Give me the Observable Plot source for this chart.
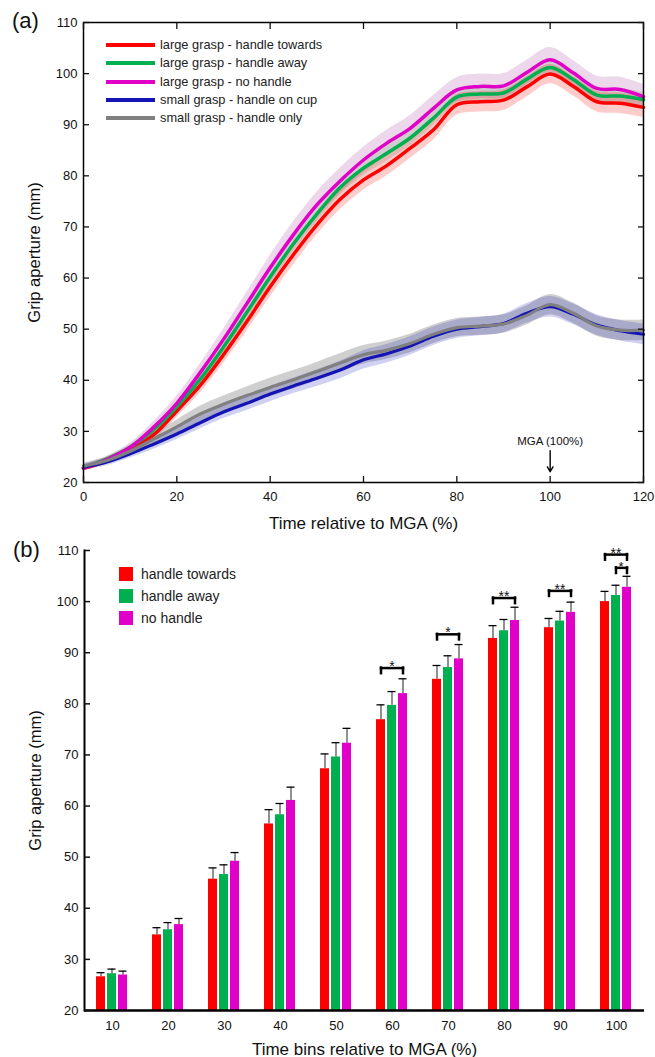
<!DOCTYPE html>
<html>
<head>
<meta charset="utf-8">
<script src="https://cdn.jsdelivr.net/npm/d3@7"></script>
<script src="https://cdn.jsdelivr.net/npm/@observablehq/plot@0.6"></script>
<style>
  body { margin: 0; background: #fff; font-family: "Liberation Sans", Arial, Helvetica, sans-serif; }
  #wrap { position: relative; width: 655px; height: 1057px; overflow: hidden; }
  .panel { position: absolute; left: 0; overflow: visible; }
  .tag { position: absolute; font-size: 22px; line-height: 22px; color: #111; }
  .legline { position: absolute; height: 4px; width: 49px; }
  .legsq { position: absolute; width: 14px; height: 14px; }
  .legtxt { position: absolute; color: #222; white-space: nowrap; }
</style>
</head>
<body>
<div id="wrap"></div>
<script>
// ---------- Panel (a): grip aperture over time ----------
const timePct = [0, 5, 10, 15, 20, 25, 30, 35, 40, 45, 50, 55, 60, 65, 70, 75, 80, 85, 90, 95, 100, 105, 110, 115, 120];

const largeTowards = [22.8, 24.2, 26.3, 29.3, 34.0, 39.0, 45.0, 51.5, 58.3, 64.6, 70.4, 75.4, 79.2, 82.0, 85.4, 89.0, 93.9, 94.5, 94.8, 97.4, 99.9, 97.5, 94.5, 94.2, 93.4];
const largeAway    = [22.9, 24.6, 26.9, 30.3, 34.8, 40.2, 46.5, 53.3, 60.2, 66.7, 72.5, 77.7, 81.5, 84.4, 87.4, 91.3, 95.4, 96.0, 96.2, 98.9, 101.2, 98.8, 95.8, 95.6, 94.9];
const largeNone    = [22.8, 24.5, 26.9, 30.8, 35.5, 41.5, 48.0, 55.0, 62.0, 68.5, 74.3, 79.0, 83.1, 86.4, 89.3, 93.2, 96.8, 97.5, 97.6, 100.2, 102.7, 100.1, 97.1, 96.9, 95.5];
const smallCup     = [23.0, 24.0, 25.6, 27.5, 29.5, 31.7, 33.8, 35.5, 37.3, 38.9, 40.4, 42.0, 44.0, 45.2, 46.7, 48.6, 50.0, 50.5, 51.1, 53.1, 54.4, 52.9, 50.8, 49.7, 49.0];
const smallHandle  = [23.2, 24.3, 26.1, 28.5, 30.9, 33.4, 35.3, 37.0, 38.6, 40.1, 41.7, 43.4, 45.0, 45.9, 47.2, 49.0, 50.3, 50.6, 51.0, 52.7, 54.8, 53.1, 50.6, 49.8, 49.8];

// half-widths of the shaded error bands
const bandTowards = [0.5, 0.6, 0.8, 1.0, 1.3, 1.5, 1.7, 1.9, 2.0, 2.0, 2.0, 2.0, 2.0, 2.0, 2.0, 2.0, 2.0, 2.0, 2.0, 2.0, 1.9, 1.9, 2.0, 2.0, 2.0];
const bandAway    = [0.4, 0.5, 0.6, 0.8, 1.0, 1.2, 1.3, 1.4, 1.5, 1.5, 1.5, 1.5, 1.5, 1.5, 1.5, 1.5, 1.5, 1.5, 1.5, 1.5, 1.5, 1.5, 1.5, 1.5, 1.5];
const bandNone    = [0.5, 0.6, 0.8, 1.1, 1.4, 1.7, 2.0, 2.2, 2.4, 2.5, 2.5, 2.5, 2.5, 2.5, 2.5, 2.5, 2.4, 2.4, 2.4, 2.4, 2.4, 2.4, 2.4, 2.4, 2.4];
const bandCup     = [0.6, 0.7, 0.8, 1.0, 1.1, 1.2, 1.3, 1.4, 1.5, 1.5, 1.6, 1.7, 1.8, 1.8, 1.8, 1.8, 1.8, 1.8, 1.8, 1.9, 2.0, 2.0, 2.0, 2.0, 2.0];
const bandHandle  = [0.6, 0.7, 0.9, 1.1, 1.3, 1.5, 1.6, 1.7, 1.8, 1.8, 1.8, 1.8, 1.8, 1.8, 1.8, 1.8, 1.8, 1.8, 1.8, 1.9, 2.0, 2.0, 2.0, 2.0, 2.0];

const seriesNamesA = ["large grasp - handle towards", "large grasp - handle away", "large grasp - no handle", "small grasp - handle on cup", "small grasp - handle only"];
const lineColorsA  = ["#ff0000", "#00b050", "#e000c8", "#1414b4", "#808080"];
const bandColorsA  = ["#ff0000", "#8fae8c", "#c890c4", "#1414b4", "#808080"];
const bandOpacityA = [0.2, 0.3, 0.35, 0.2, 0.38];
const xTicksA = [0, 20, 40, 60, 80, 100, 120];
const yTicks  = [20, 30, 40, 50, 60, 70, 80, 90, 100, 110];
const mgaNote = [{t: 100, from: 26.2, to: 22.1, labelY: 28.1, label: "MGA (100%)"}];

// ---------- Panel (b): time-binned grip aperture ----------
const bins = [10, 20, 30, 40, 50, 60, 70, 80, 90, 100];
const seriesB = ["handle towards", "handle away", "no handle"];
const colorsB = ["#ff0000", "#00b050", "#e000c8"];
const meanTowards = [26.6, 34.8, 45.7, 56.5, 67.3, 76.9, 84.8, 92.8, 94.9, 100.0];
const meanAway    = [27.2, 35.8, 46.6, 58.3, 69.6, 79.7, 87.1, 94.3, 96.2, 101.2];
const meanNone    = [26.95, 36.8, 49.2, 61.1, 72.3, 82.0, 88.8, 96.3, 97.9, 102.8];
const errTowards  = [0.8, 1.4, 2.2, 2.8, 2.9, 2.9, 2.7, 2.5, 1.8, 2.0];
const errAway     = [0.9, 1.4, 1.9, 2.2, 2.8, 2.7, 2.3, 2.2, 1.9, 2.0];
const errNone     = [0.75, 1.2, 1.7, 2.6, 2.9, 2.9, 2.8, 2.6, 2.0, 2.15];

const sigBrackets = [
  {bin: 60,  from: "handle towards", to: "no handle", y: 87.0,  label: "*"},
  {bin: 70,  from: "handle towards", to: "no handle", y: 93.6,  label: "*"},
  {bin: 80,  from: "handle towards", to: "no handle", y: 100.7, label: "**"},
  {bin: 90,  from: "handle towards", to: "no handle", y: 102.1, label: "**"},
  {bin: 100, from: "handle away",    to: "no handle", y: 106.6, label: "*"},
  {bin: 100, from: "handle towards", to: "no handle", y: 109.2, label: "**"}
];
const bracketLeg = 1.1;

// ---------- build tables ----------
const valuesA = [largeTowards, largeAway, largeNone, smallCup, smallHandle];
const bandsA  = [bandTowards, bandAway, bandNone, bandCup, bandHandle];
const rowsA = seriesNamesA.map((name, s) => timePct.map((t, i) => ({
  series: name, t, v: valuesA[s][i], lo: valuesA[s][i] - bandsA[s][i], hi: valuesA[s][i] + bandsA[s][i]
})));

const meansB = [meanTowards, meanAway, meanNone];
const errsB  = [errTowards, errAway, errNone];
const rowsB = bins.flatMap((bin, i) => seriesB.map((series, s) => ({
  bin, series, mean: meansB[s][i], hi: meansB[s][i] + errsB[s][i]
})));
const legsB = sigBrackets.flatMap(b => [
  {bin: b.bin, x: b.from, y: b.y, y2: b.y - bracketLeg},
  {bin: b.bin, x: b.to, y: b.y, y2: b.y - bracketLeg}
]);
const starsMid = sigBrackets.map(b => ({...b, mid: b.from === "handle towards" ? "handle away" : b.to, half: b.from !== "handle towards"}));

const font = '"Liberation Sans", Arial, Helvetica, sans-serif';
const wrap = document.getElementById("wrap");

// draw order: bands (large then small), lines
const bandOrder = [2, 1, 0, 4, 3];
const lineOrder = [0, 1, 2, 3, 4];

const plotA = Plot.plot({
  width: 655, height: 530,
  marginLeft: 83, marginRight: 12, marginTop: 22, marginBottom: 48,
  style: {fontFamily: font, fontSize: "13px", color: "#111", background: "transparent", overflow: "visible"},
  x: {domain: [0, 120]},
  y: {domain: [20, 110]},
  marks: [
    ...bandOrder.map(s => Plot.areaY(rowsA[s], {x: "t", y1: "lo", y2: "hi", fill: bandColorsA[s], fillOpacity: bandOpacityA[s], curve: "catmull-rom"})),
    ...lineOrder.map(s => Plot.line(rowsA[s], {x: "t", y: "v", stroke: lineColorsA[s], strokeWidth: s < 3 ? 3.5 : 3.2, curve: "catmull-rom"})),
    Plot.frame({stroke: "#000", strokeWidth: 1.5}),
    Plot.axisX({anchor: "bottom", ticks: xTicksA, tickSize: -6, text: null, label: null, strokeWidth: 1.3}),
    Plot.axisX({anchor: "top", ticks: xTicksA, tickSize: -6, text: null, label: null, strokeWidth: 1.3}),
    Plot.axisY({anchor: "left", ticks: yTicks, tickSize: -6, text: null, label: null, strokeWidth: 1.3}),
    Plot.axisY({anchor: "right", ticks: yTicks, tickSize: -6, text: null, label: null, strokeWidth: 1.3}),
    Plot.axisX({anchor: "bottom", ticks: xTicksA, tickSize: 0, tickPadding: 9, label: null, fontSize: 13}),
    Plot.axisY({anchor: "left", ticks: yTicks, tickSize: 0, tickPadding: 6, label: null, fontSize: 13}),
    Plot.axisX({anchor: "bottom", ticks: [], tickSize: 0, label: "Time relative to MGA (%)", labelAnchor: "center", labelArrow: "none", labelOffset: 46, fontSize: 17}),
    Plot.axisY({anchor: "left", ticks: [], tickSize: 0, label: "Grip aperture (mm)", labelAnchor: "center", labelArrow: "none", labelOffset: 55, fontSize: 16.5}),
    Plot.arrow(mgaNote, {x1: "t", x2: "t", y1: "from", y2: "to", stroke: "#000", strokeWidth: 1.4, headLength: 6}),
    Plot.text(mgaNote, {x: "t", y: "labelY", text: "label", fontSize: 11.5, fill: "#111"})
  ]
});
plotA.classList.add("panel");
plotA.style.top = "0px";
wrap.appendChild(plotA);

const plotB = Plot.plot({
  width: 655, height: 527,
  marginLeft: 84, marginRight: 11, marginTop: 20, marginBottom: 47,
  style: {fontFamily: font, fontSize: "13px", color: "#111", background: "transparent", overflow: "visible"},
  fx: {domain: bins, padding: 0},
  x: {domain: seriesB, paddingInner: 0.167, paddingOuter: 0.917, axis: null},
  y: {domain: [20, 110]},
  color: {domain: seriesB, range: colorsB},
  marks: [
    Plot.barY(rowsB, {fx: "bin", x: "series", y: "mean", fill: "series", clip: true}),
    Plot.ruleX(rowsB, {fx: "bin", x: "series", y1: "mean", y2: "hi", stroke: "#555", strokeWidth: 1.3}),
    Plot.tickY(rowsB, {fx: "bin", x: "series", y: "hi", stroke: "#000", strokeWidth: 1.3, insetLeft: 0.5, insetRight: 0.5}),
    Plot.link(sigBrackets, {fx: "bin", x1: "from", x2: "to", y1: "y", y2: "y", stroke: "#000", strokeWidth: 2.5, strokeLinecap: "square"}),
    Plot.ruleX(legsB, {fx: "bin", x: "x", y1: "y", y2: "y2", stroke: "#000", strokeWidth: 2.5, strokeLinecap: "square"}),
    Plot.text(starsMid.filter(d => !d.half), {fx: "bin", x: "mid", y: "y", text: "label", lineAnchor: "bottom", dy: 3, fontSize: 14, fill: "#111"}),
    Plot.text(starsMid.filter(d => d.half), {fx: "bin", x: "mid", y: "y", text: "label", lineAnchor: "bottom", dy: 3.5, dx: -6, fontSize: 13, fill: "#111"}),
    Plot.ruleY([20], {stroke: "#000", strokeWidth: 2.5}),
    Plot.frame({anchor: "left", facetAnchor: "left", stroke: "#000", strokeWidth: 2}),
    Plot.axisY({anchor: "left", ticks: yTicks, tickSize: -6, text: null, label: null, strokeWidth: 1.5}),
    Plot.axisY({anchor: "left", ticks: yTicks, tickSize: 0, tickPadding: 6, label: null, fontSize: 13}),
    Plot.axisY({anchor: "left", ticks: [], tickSize: 0, label: "Grip aperture (mm)", labelAnchor: "center", labelArrow: "none", labelOffset: 55, fontSize: 16.5}),
    Plot.axisFx({anchor: "bottom", tickSize: 0, tickPadding: 10, label: null, fontSize: 13}),
    Plot.axisFx({anchor: "bottom", ticks: [], tickSize: 0, label: "Time bins relative to MGA (%)", labelAnchor: "center", labelArrow: "none", labelOffset: 44, fontSize: 17})
  ]
});
plotB.classList.add("panel");
plotB.style.top = "530px";
wrap.appendChild(plotB);

// ---------- panel tags and legends ----------
function addDiv(cls, styles, text) {
  const d = document.createElement("div");
  d.className = cls;
  Object.assign(d.style, styles);
  if (text != null) d.textContent = text;
  wrap.appendChild(d);
  return d;
}
addDiv("tag", {left: "12px", top: "10px"}, "(a)");
addDiv("tag", {left: "13px", top: "539px"}, "(b)");

const legRowsA = [45, 63.3, 81.6, 99.9, 118.2];
seriesNamesA.forEach((name, i) => {
  addDiv("legline", {left: "106px", top: (legRowsA[i] - 2) + "px", background: lineColorsA[i]});
  addDiv("legtxt", {left: "160px", top: (legRowsA[i] - 8) + "px", fontSize: "12.8px", lineHeight: "15px"}, name);
});
const legRowsB = [567, 589, 611];
seriesB.forEach((name, i) => {
  addDiv("legsq", {left: "119px", top: legRowsB[i] + "px", background: colorsB[i]});
  addDiv("legtxt", {left: "141px", top: (legRowsB[i] + 0) + "px", fontSize: "14px", lineHeight: "15px"}, name);
});
</script>
</body>
</html>
